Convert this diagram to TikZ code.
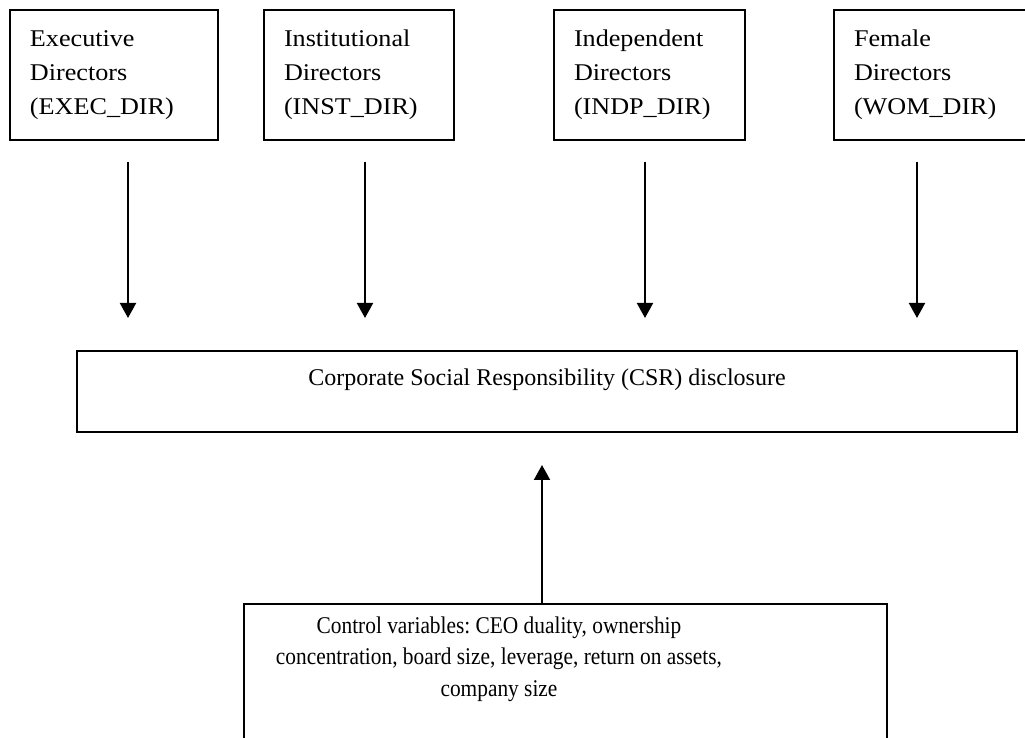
\documentclass[tikz,border=0pt]{standalone}
\usepackage{fontspec}
\setmainfont{Liberation Serif}
\newfontfamily\widefont{Liberation Serif}[FakeStretch=1.09]
\newfontfamily\narrowfont{Liberation Serif}[FakeStretch=0.89]
\frenchspacing
\usetikzlibrary{arrows.meta}
\begin{document}
\begin{tikzpicture}[x=0.5pt, y=-0.5pt,
          every node/.style = {font=\fontsize{12}{17}\selectfont},
          dirbox/.style = {draw, line width=1pt, anchor=north west, align=left, inner xsep=10pt, minimum height=65pt, font=\widefont\fontsize{12}{17}\selectfont},
          csrbox/.style = {draw, line width=1pt, anchor=north west, minimum width=470pt, minimum height=40.5pt, text depth=14.7pt},
          flow/.style = {-{Triangle[width=8pt,length=7.5pt]}, line width=1pt}]
          \useasboundingbox (0,0) rectangle (1025,738);
          % director boxes
          \node[dirbox, text width=84pt] (exec) at (9,9) {Executive\\Directors\\(EXEC\_DIR)};
          \node[dirbox, text width=75pt] (inst) at (263,9) {Institutional\\Directors\\(INST\_DIR)};
          \node[dirbox, text width=75.5pt] (indp) at (553,9) {Independent\\Directors\\(INDP\_DIR)};
          \node[dirbox, text width=78pt] (wom) at (833,9) {Female\\Directors\\(WOM\_DIR)};
          % dependent variable
          \node[csrbox] (csr) at (76,350) {Corporate Social Responsibility (CSR) disclosure};
          % control variables
          \node[draw, line width=1pt, anchor=north west, minimum width=321.5pt, minimum height=80pt] (ctrlbox) at (243,603) {};
          \node[anchor=north, align=center, inner sep=0pt, font=\narrowfont\fontsize{12}{15.75}\selectfont] (ctrl) at (499,616)
            {Control variables: CEO duality, ownership\\concentration, board size, leverage, return on assets,\\company size};
          % arrows
          \coordinate (execstart) at (128,162); \coordinate (execend) at (128,318);
          \coordinate (inststart) at (365,162); \coordinate (instend) at (365,318);
          \coordinate (indpstart) at (645,162); \coordinate (indpend) at (645,318);
          \coordinate (womstart) at (917,162); \coordinate (womend) at (917,318);
          \coordinate (ctrlend) at (542,465);
          \draw[flow] (execstart) -- (execend);
          \draw[flow] (inststart) -- (instend);
          \draw[flow] (indpstart) -- (indpend);
          \draw[flow] (womstart) -- (womend);
          \draw[flow] (ctrlbox.north -| ctrlend) -- (ctrlend);
\end{tikzpicture}
\end{document}
